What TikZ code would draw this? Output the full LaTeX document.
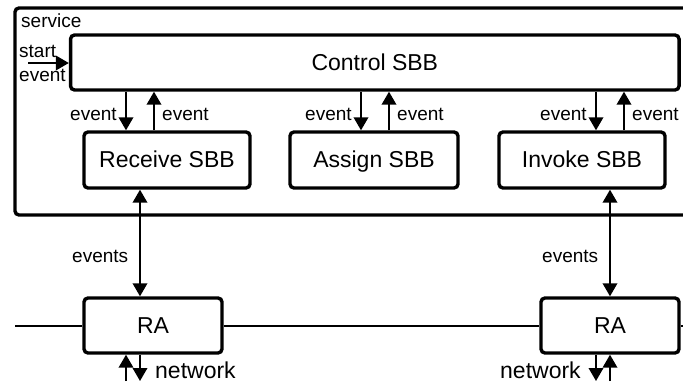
\documentclass[tikz,border=0pt]{standalone}
\usepackage{fontspec}
\setmainfont{Liberation Sans}
\usetikzlibrary{arrows.meta}
\tikzset{
  x=1pt,y=-1pt,
  box/.style={draw=black,fill=white,line width=3.4pt,rounded corners=4pt,font=\fontsize{23}{25}\selectfont,inner sep=0pt,align=center,text height=15pt,text depth=0pt},
  arr/.style={line width=2pt,-{Triangle[length=13pt,width=14.5pt]}},
  biarr/.style={line width=2pt,{Triangle[length=13pt,width=14.5pt]}-{Triangle[length=13pt,width=14.5pt]}},
  wire/.style={line width=1.8pt},
  lab/.style={font=\fontsize{19}{21}\selectfont,inner sep=0pt},
  netlab/.style={font=\fontsize{23}{25}\selectfont,inner sep=0pt},
}
\begin{document}
\begin{tikzpicture}
\useasboundingbox (0,0) rectangle (683,383);
% service frame, open on the right
\draw[line width=3.4pt,rounded corners=4pt] (690,8) -- (15,8) -- (15,215) -- (690,215);
\node[lab,anchor=base west] (service) at (21,27) {service};
% boxes
\node[box,minimum width=608.5pt,minimum height=55pt] (control) at (374.8,62.5) {Control SBB};
\node[box,minimum width=166pt,minimum height=56pt] (receive) at (167,160) {Receive SBB};
\node[box,minimum width=168pt,minimum height=56pt] (assign) at (374,160) {Assign SBB};
\node[box,minimum width=166pt,minimum height=56pt] (invoke) at (582,160) {Invoke SBB};
\node[box,minimum width=138pt,minimum height=55pt] (ra1) at (153,325.5) {RA};
\node[box,minimum width=138pt,minimum height=55pt] (ra2) at (610,325.5) {RA};
% free ends and columns
\coordinate (wl) at (15,326);
\coordinate (wr) at (683,326);
\coordinate (st) at (28,63);
\coordinate (rd) at (126,110);
\coordinate (ru) at (154,110);
\coordinate (ad) at (361,110);
\coordinate (au) at (389,110);
\coordinate (id) at (596,110);
\coordinate (iu) at (624,110);
\coordinate (n1u) at (126,381);
\coordinate (n1d) at (140,381);
\coordinate (n2d) at (596,381);
\coordinate (n2u) at (610,381);
% wires
\draw[wire] (wl) -- (wl -| ra1.west);
\draw[wire] (ra1.east |- wl) -- (ra2.west |- wl);
\draw[wire] (ra2.east |- wl) -- (wr);
% arrows
\draw[arr] (st) -- (st -| control.west);
\draw[arr] (control.south -| rd) -- (receive.north -| rd);
\draw[arr] (receive.north -| ru) -- (control.south -| ru);
\draw[arr] (control.south -| ad) -- (assign.north -| ad);
\draw[arr] (assign.north -| au) -- (control.south -| au);
\draw[arr] (control.south -| id) -- (invoke.north -| id);
\draw[arr] (invoke.north -| iu) -- (control.south -| iu);
\draw[biarr] (receive.south -| n1d) -- (ra1.north -| n1d);
\draw[biarr] (invoke.south -| n2u) -- (ra2.north -| n2u);
\draw[arr] (n1u) -- (ra1.south -| n1u);
\draw[arr] (ra1.south -| n1d) -- (n1d);
\draw[arr] (ra2.south -| n2d) -- (n2d);
\draw[arr] (n2u) -- (ra2.south -| n2u);
% labels
\node[lab,anchor=base west] (startl) at (19,57) {start};
\node[lab,anchor=base west] (eventl) at (19,81) {event};
\node[lab,anchor=base west] (l1) at (70,120) {event};
\node[lab,anchor=base west] (l2) at (162,120) {event};
\node[lab,anchor=base west] (l3) at (305,120) {event};
\node[lab,anchor=base west] (l4) at (397,120) {event};
\node[lab,anchor=base west] (l5) at (540,120) {event};
\node[lab,anchor=base west] (l6) at (632,120) {event};
\node[lab,anchor=base west] (e1) at (72,262) {events};
\node[lab,anchor=base west] (e2) at (542,262) {events};
\node[netlab,anchor=base west] (n1) at (155,378) {network};
\node[netlab,anchor=base west] (n2) at (500,378) {network};
\end{tikzpicture}
\end{document}
